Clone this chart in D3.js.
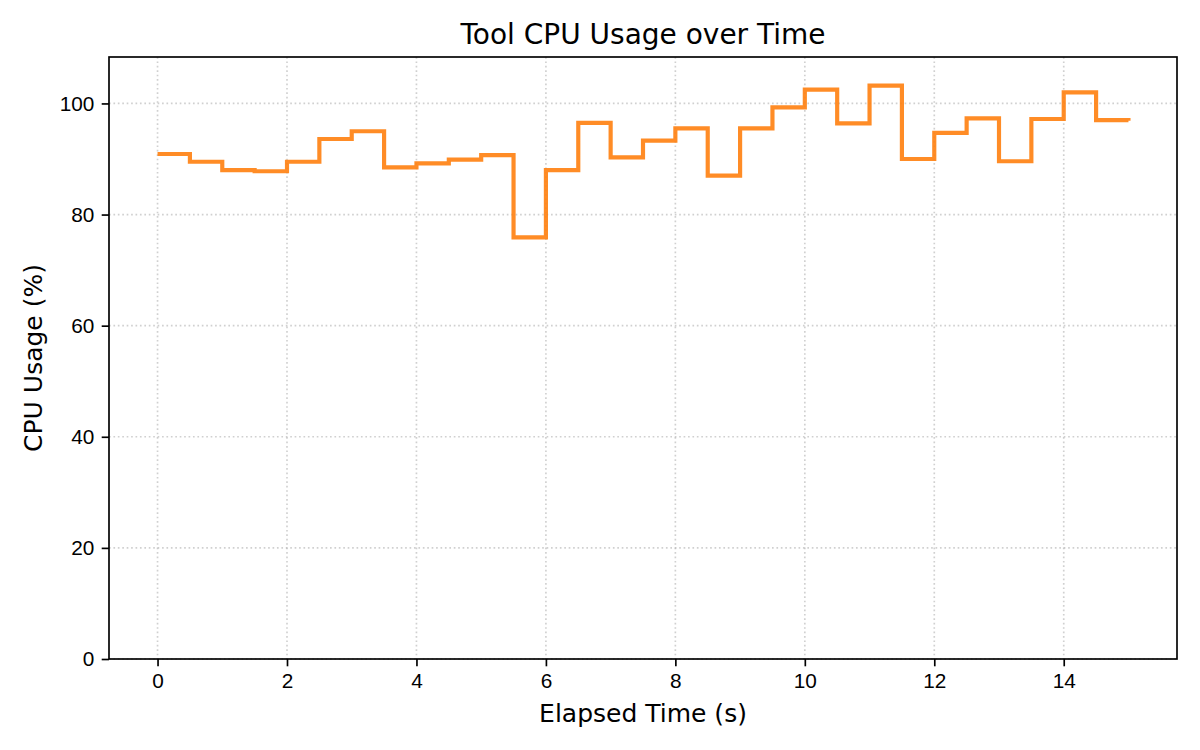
<!DOCTYPE html>
<html>
<head>
<meta charset="utf-8">
<script src="https://cdn.jsdelivr.net/npm/d3@7"></script>
<style>
  body { margin: 0; background: #fff; }
  svg { font-family: 'DejaVu Sans', sans-serif; }
  .tick text { font-size: 20.8px; fill: #000; }
  .axis path, .axis line { stroke: #000; stroke-width: 1.67px; }
</style>
</head>
<body>
<div id="chart"></div>
<script>
const times = [0, 0.5, 1, 1.5, 2, 2.5, 3, 3.5, 4, 4.5, 5, 5.5, 6, 6.5, 7, 7.5,
  8, 8.5, 9, 9.5, 10, 10.5, 11, 11.5, 12, 12.5, 13, 13.5, 14, 14.5, 15];
const cpuUsage = [90.9, 89.5, 88.0, 87.8, 89.5, 93.6, 95.0, 88.5, 89.2, 89.9, 90.7,
  75.9, 88.0, 96.5, 90.3, 93.3, 95.5, 87.0, 95.5, 99.3, 102.5, 96.4, 103.2, 90.0,
  94.7, 97.3, 89.6, 97.2, 102.0, 97.0, 96.9];
const xTicks = [0, 2, 4, 6, 8, 10, 12, 14];
const yTicks = [0, 20, 40, 60, 80, 100];

const width = 1200;
const height = 750;
const margins = { top: 57, bottom: 91, left: 109, right: 23 };

const svg = d3.select('#chart').append('svg')
  .attr('width', width)
  .attr('height', height);

const data = times.map((t, i) => ({ t, v: cpuUsage[i] }));

const xScale = d3.scaleLinear()
  .domain([-0.75, 15.75])
  .range([margins.left, width - margins.right]);

const yScale = d3.scaleLinear()
  .domain([0, d3.max(cpuUsage) * 1.05])
  .range([height - margins.bottom, margins.top]);

// dotted grid
const grid = svg.append('g').attr('class', 'grid');
grid.selectAll('.vgrid')
  .data(xTicks)
  .enter().append('line')
  .attr('x1', (d) => xScale(d))
  .attr('x2', (d) => xScale(d))
  .attr('y1', margins.top)
  .attr('y2', height - margins.bottom)
  .style('stroke', '#b0b0b0')
  .style('stroke-opacity', 0.6)
  .style('stroke-width', 1.67)
  .style('stroke-dasharray', '1.67,2.75');
grid.selectAll('.hgrid')
  .data(yTicks)
  .enter().append('line')
  .attr('x1', margins.left)
  .attr('x2', width - margins.right)
  .attr('y1', (d) => yScale(d))
  .attr('y2', (d) => yScale(d))
  .style('stroke', '#b0b0b0')
  .style('stroke-opacity', 0.6)
  .style('stroke-width', 1.67)
  .style('stroke-dasharray', '1.67,2.75');

// step line
const stepLine = d3.line()
  .x((d) => xScale(d.t))
  .y((d) => yScale(d.v))
  .curve(d3.curveStepAfter);

svg.append('path')
  .datum(data)
  .attr('d', stepLine)
  .style('fill', 'none')
  .style('stroke', '#ff7f0e')
  .style('stroke-opacity', 0.9)
  .style('stroke-width', 4.17)
  .style('stroke-linejoin', 'miter');

// axes
const xAxis = d3.axisBottom(xScale)
  .tickValues(xTicks)
  .tickSizeInner(7.3)
  .tickSizeOuter(0)
  .tickPadding(7.3);

svg.append('g')
  .attr('class', 'axis')
  .attr('transform', `translate(0,${height - margins.bottom})`)
  .call(xAxis)
  .select('.domain').remove();

const yAxis = d3.axisLeft(yScale)
  .tickValues(yTicks)
  .tickSizeInner(7.3)
  .tickSizeOuter(0)
  .tickPadding(7.3);

svg.append('g')
  .attr('class', 'axis')
  .attr('transform', `translate(${margins.left},0)`)
  .call(yAxis)
  .select('.domain').remove();

// frame
svg.append('rect')
  .attr('x', margins.left)
  .attr('y', margins.top)
  .attr('width', width - margins.left - margins.right)
  .attr('height', height - margins.top - margins.bottom)
  .style('fill', 'none')
  .style('stroke', '#000')
  .style('stroke-width', 1.67);

// labels
const plotCenterX = (margins.left + width - margins.right) / 2;
const plotCenterY = (margins.top + height - margins.bottom) / 2;

svg.append('text')
  .attr('x', plotCenterX)
  .attr('y', 44)
  .style('text-anchor', 'middle')
  .style('font-size', '28px')
  .text('Tool CPU Usage over Time');

svg.append('text')
  .attr('x', plotCenterX)
  .attr('y', 722)
  .style('text-anchor', 'middle')
  .style('font-size', '25px')
  .text('Elapsed Time (s)');

svg.append('text')
  .attr('transform', `translate(42,${plotCenterY}) rotate(-90)`)
  .style('text-anchor', 'middle')
  .style('font-size', '25px')
  .text('CPU Usage (%)');
</script>
</body>
</html>
